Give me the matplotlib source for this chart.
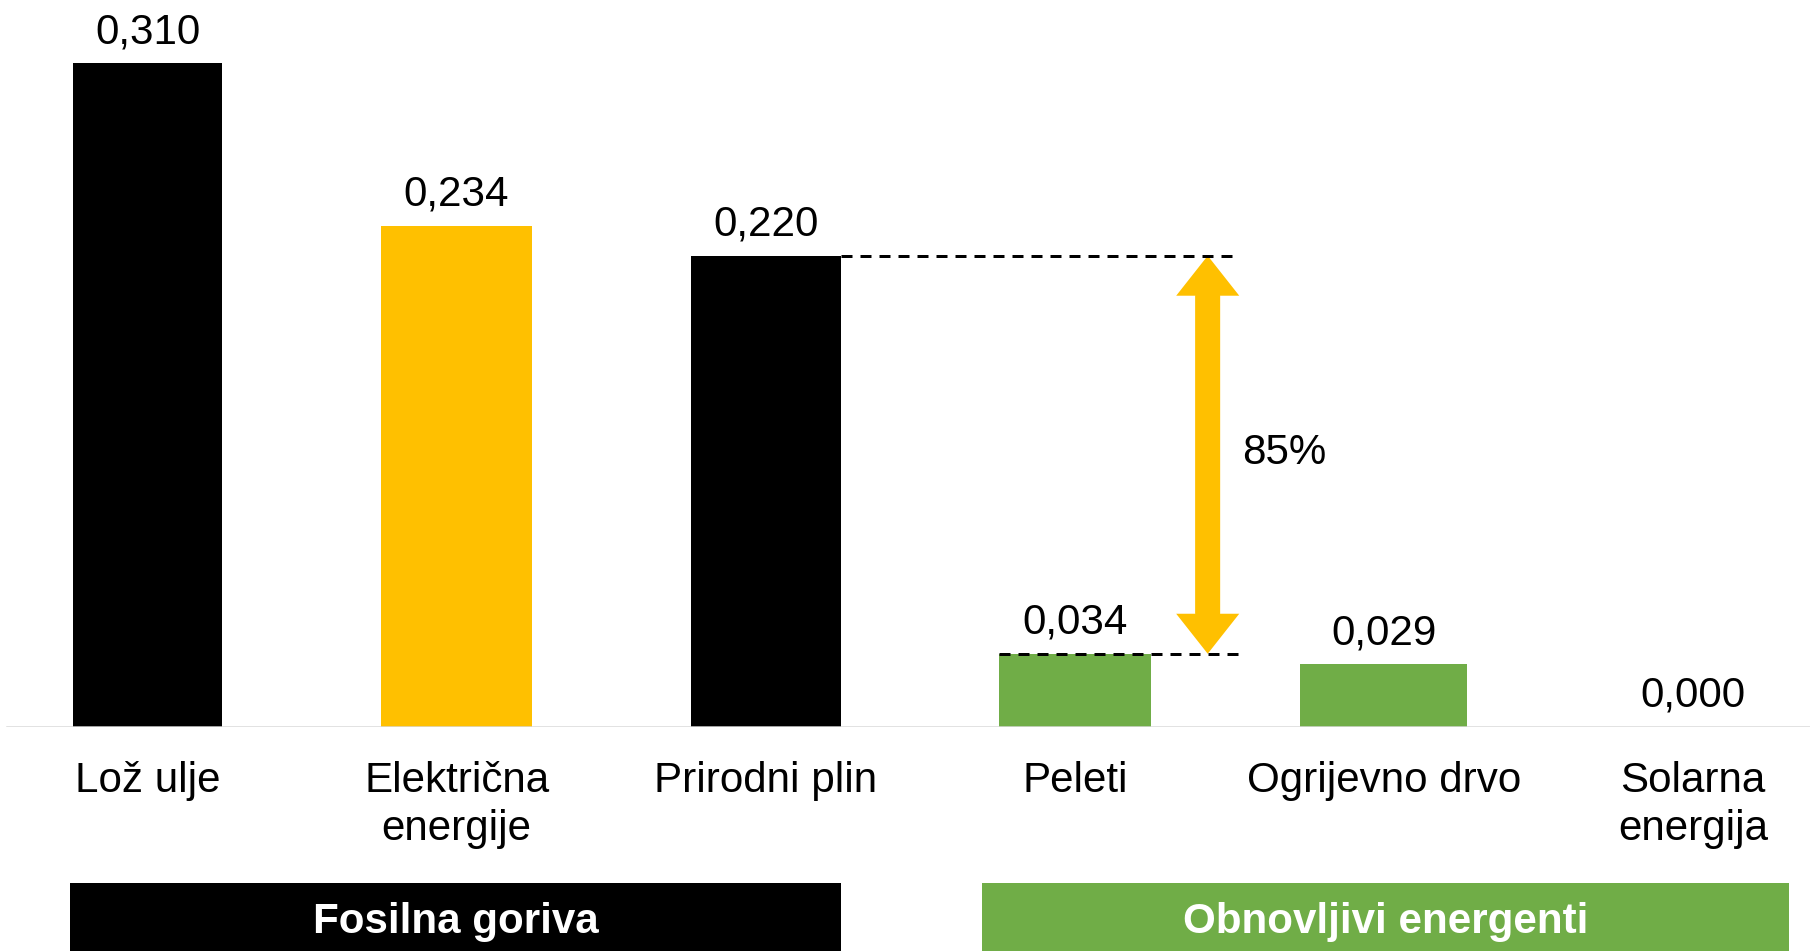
import matplotlib
matplotlib.use('Agg')
import matplotlib.pyplot as plt
from matplotlib.transforms import blended_transform_factory
from matplotlib.patches import Rectangle

# ---------------- data ----------------
categories = ['Lož ulje', 'Električna\nenergije', 'Prirodni plin',
              'Peleti', 'Ogrijevno drvo', 'Solarna\nenergija']
values = [0.310, 0.234, 0.220, 0.034, 0.029, 0.000]
value_labels = ['0,310', '0,234', '0,220', '0,034', '0,029', '0,000']
groups = ['Fosilna goriva', 'Obnovljivi energenti']
group_members = [(0, 2), (3, 5)]
compare_pair = (2, 3)          # Prirodni plin vs Peleti
reduction_label = '85%'

# ---------------- style ----------------
bar_colors = ['#000000', '#FFC000', '#000000', '#70AD47', '#70AD47', '#70AD47']
bar_widths = [0.485, 0.49, 0.485, 0.49, 0.54, 0.49]
group_colors = ['#000000', '#70AD47']
group_pads = [(0.25, 0.245), (0.30, 0.31)]
arrow_color = '#FFC000'
FONT = 'Liberation Sans'
FS = 30.3

W, H, DPI = 1810, 951, 100
fig = plt.figure(figsize=(W / DPI, H / DPI), dpi=DPI)
base_px = 224.5
ax = fig.add_axes([0, base_px / H, 1, 1 - base_px / H])
ax.set_xlim(-0.4772, 5.3785)
ax.set_ylim(0, 0.3395)
ax.axis('off')

x = list(range(len(categories)))
ax.bar(x, values, width=bar_widths, color=bar_colors, zorder=2)
ax.axhline(0, xmin=7 / W, xmax=1, color='#d9d9d9', lw=1.8, zorder=3)

pt = 72.0 / DPI  # points per pixel

# value labels
for xi, v, lab in zip(x, values, value_labels):
    ax.annotate(lab, xy=(xi, v), xytext=(0, 20 * pt), textcoords='offset points',
                ha='center', va='baseline', fontsize=FS, family=FONT,
                annotation_clip=False)

# category labels (each line placed on its own baseline)
for xi, cat in zip(x, categories):
    for j, line in enumerate(cat.split('\n')):
        ax.annotate(line, xy=(xi, 0), xytext=(0, -(65.5 + 48 * j) * pt),
                    textcoords='offset points', ha='center', va='baseline',
                    fontsize=FS, family=FONT, annotation_clip=False)

# group boxes
trans = blended_transform_factory(ax.transData, fig.transFigure)
for name, (a, b), col, (pl, pr) in zip(groups, group_members, group_colors, group_pads):
    x0, x1 = a - pl, b + pr
    rect = Rectangle((x0, -0.05), x1 - x0, 0.05 + 68 / H, transform=trans,
                     facecolor=col, edgecolor='none', clip_on=False, zorder=1)
    fig.add_artist(rect)
    fig.text((x0 + x1) / 2, 18 / H, name, transform=trans,
             ha='center', va='baseline', color='white', fontsize=FS,
             fontweight='bold', family=FONT, zorder=2)

# comparison: dashed lines + double arrow
i_hi, i_lo = compare_pair
v_hi, v_lo = values[i_hi], values[i_lo]
arrow_x = i_lo + 0.43
head_w = 0.204
shaft_w = 0.080
head_l = 40 / 2140
dash_kw = dict(color='black', lw=3 * pt, ls=(0, (11 / 3, 8 / 3)), zorder=4,
               dash_capstyle='butt')
ax.plot([i_hi + bar_widths[i_hi] / 2, arrow_x + head_w / 2], [v_hi, v_hi], **dash_kw)
ax.plot([i_lo - bar_widths[i_lo] / 2, arrow_x + head_w / 2], [v_lo, v_lo], **dash_kw)

# two overlapping single-headed arrows form one double-headed arrow
ax.arrow(arrow_x, v_lo + head_l, 0, v_hi - (v_lo + head_l), width=shaft_w,
         head_width=head_w, head_length=head_l, length_includes_head=True,
         color=arrow_color, lw=0, zorder=3)
ax.arrow(arrow_x, v_hi - head_l, 0, v_lo - (v_hi - head_l), width=shaft_w,
         head_width=head_w, head_length=head_l, length_includes_head=True,
         color=arrow_color, lw=0, zorder=3)

mid = (v_hi + v_lo) / 2
ax.annotate(reduction_label, xy=(arrow_x, mid), xytext=(34 * pt, -9.3 * pt),
            textcoords='offset points', ha='left', va='baseline',
            fontsize=FS, family=FONT)

fig.savefig('out.png', dpi=DPI)
